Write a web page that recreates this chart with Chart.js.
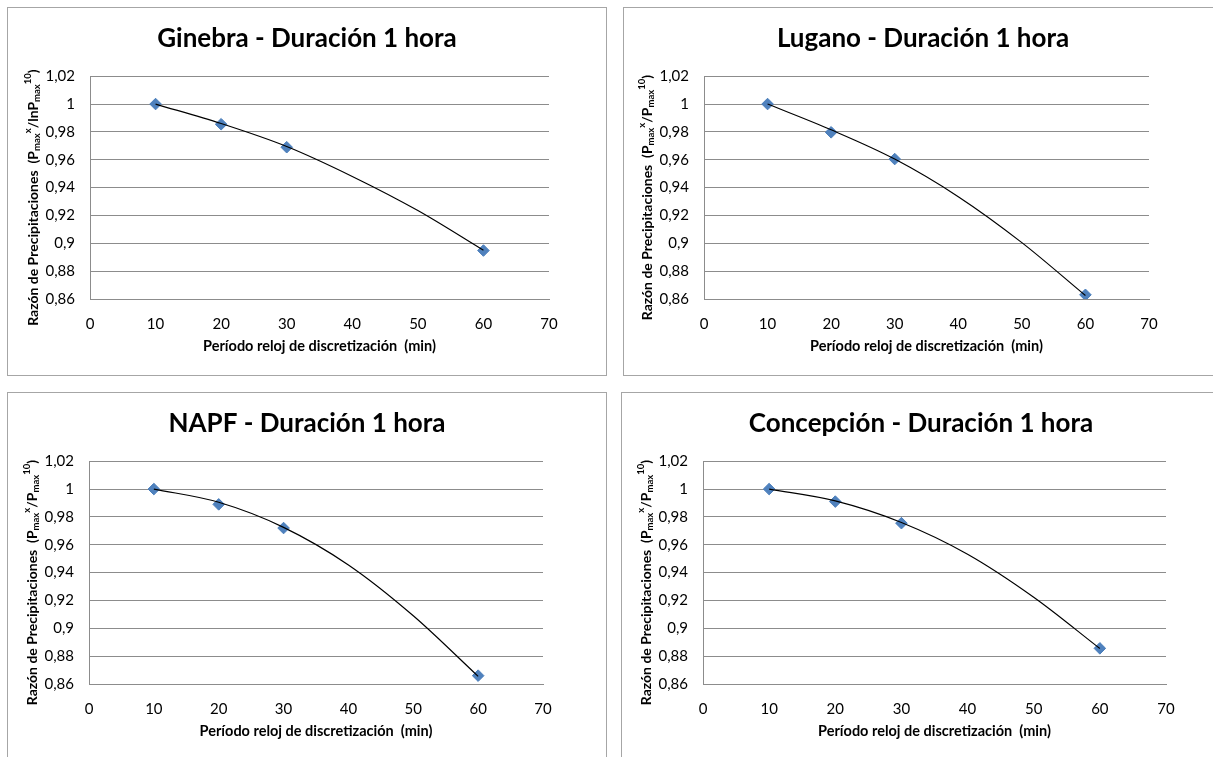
<!DOCTYPE html>
<html>
<head>
<meta charset="utf-8">
<script src="https://cdn.jsdelivr.net/npm/chart.js@4.4.1/dist/chart.umd.min.js"></script>
<style>
  html, body { margin: 0; padding: 0; background: #fff; overflow: hidden; width: 1213px; height: 757px; }
  body { position: relative; }
  .panel { position: absolute; border: 1px solid #a6a6a6; width: 598px; height: 367px; background: #fff; }
  .panel canvas { display: block; }
  #p1 { left: 7px; top: 7px; }
  #p2 { left: 623px; top: 7px; }
  #p3 { left: 7px; top: 392px; }
  #p4 { left: 621px; top: 392px; }
</style>
</head>
<body>
<div class="panel" id="p1"><canvas id="c1" width="598" height="367"></canvas></div>
<div class="panel" id="p2"><canvas id="c2" width="598" height="367"></canvas></div>
<div class="panel" id="p3"><canvas id="c3" width="598" height="367"></canvas></div>
<div class="panel" id="p4"><canvas id="c4" width="598" height="367"></canvas></div>
<script>
// ---- datos ----
var periodos = [10, 20, 30, 60];
var ginebraRatio = [1.0, 0.9855, 0.969, 0.8948];
var luganoRatio = [1.0, 0.9797, 0.9605, 0.863];
var napfRatio = [1.0, 0.989, 0.972, 0.866];
var concepcionRatio = [1.0, 0.991, 0.9755, 0.8856];

// curva de tendencia
var trendX = [10, 20, 30, 40, 50, 60];
var ginebraTrend = [1.0, 0.986, 0.9695, 0.948, 0.9235, 0.895];
var luganoTrend = [1.0, 0.9815, 0.9605, 0.9335, 0.9005, 0.8625];
var napfTrend = [1.0, 0.9905, 0.9725, 0.9455, 0.909, 0.8655];
var concepcionTrend = [1.0, 0.9915, 0.976, 0.9532, 0.9223, 0.8855];

var titulos = ['Ginebra - Duración 1 hora', 'Lugano - Duración 1 hora', 'NAPF - Duración 1 hora', 'Concepción - Duración 1 hora'];
var xTitulo = 'Período reloj de discretización  (min)';
var yMin = 0.86, yMax = 1.02, yStep = 0.02;
var xMin = 0, xMax = 70, xStep = 10;

var seriesPuntos = [ginebraRatio, luganoRatio, napfRatio, concepcionRatio];
var seriesTrend = [ginebraTrend, luganoTrend, napfTrend, concepcionTrend];

Chart.defaults.font.family = 'Lato, "Open Sans", sans-serif';
Chart.defaults.color = '#000';

// título del eje Y con subíndices / superíndices
var yTitleRich = {
  id: 'yTitleRich',
  afterDraw: function (chart, args, opts) {
    var parts = opts.parts;
    if (!parts) return;
    var ctx = chart.ctx;
    var area = chart.chartArea;
    var big = 'bold 14px Lato', small = 'bold 9.5px Lato';
    ctx.save();
    var total = 0;
    var widths = parts.map(function (p) {
      ctx.font = p.s ? small : big;
      var w = ctx.measureText(p.t).width;
      total += w;
      return w;
    });
    ctx.translate(area.left + opts.dx, (area.top + area.bottom) / 2 + opts.dy);
    ctx.rotate(-Math.PI / 2);
    ctx.textBaseline = 'middle';
    ctx.textAlign = 'left';
    ctx.fillStyle = '#000';
    var x = -total / 2;
    parts.forEach(function (p, i) {
      ctx.font = p.s ? small : big;
      var dy = p.s === 'sub' ? 4 : (p.s === 'sup' ? -5 : 0);
      ctx.fillText(p.t, x, dy);
      x += widths[i];
    });
    ctx.restore();
  }
};

function yParts(denom) {
  return [
    { t: 'Razón de Precipitaciones  (P' },
    { t: 'max', s: 'sub' },
    { t: 'x', s: 'sup' },
    { t: denom },
    { t: 'max', s: 'sub' },
    { t: '10', s: 'sup' },
    { t: ')' }
  ];
}

var leftW = [82, 80, 81, 81];
var rightW = [57, 73, 63, 54];
var denoms = ['/lnP', '/P', '/P', '/P'];

function toXY(xs, ys) {
  return xs.map(function (x, i) { return { x: x, y: ys[i] }; });
}

for (var k = 0; k < 4; k++) {
  (function (k) {
    new Chart(document.getElementById('c' + (k + 1)), {
      type: 'scatter',
      data: {
        datasets: [
          {
            data: toXY(trendX, seriesTrend[k]),
            showLine: true,
            borderColor: '#000',
            borderWidth: 1.2,
            pointRadius: 0,
            cubicInterpolationMode: 'monotone',
            order: 0
          },
          {
            data: toXY(periodos, seriesPuntos[k]),
            pointStyle: 'rectRot',
            pointRadius: 5.8,
            backgroundColor: '#4f81bd',
            borderColor: '#4a7ebb',
            borderWidth: 1,
            order: 1
          }
        ]
      },
      options: {
        responsive: false,
        animation: false,
        layout: { padding: { left: 0, right: 0, top: 0, bottom: 20 } },
        plugins: {
          legend: { display: false },
          tooltip: { enabled: false },
          title: {
            display: true,
            text: titulos[k],
            font: { size: 26, weight: 'bold' },
            color: '#000',
            padding: { top: 15, bottom: 22 }
          },
          yTitleRich: { parts: yParts(denoms[k]), dx: -57, dy: 10 }
        },
        scales: {
          x: {
            type: 'linear',
            min: xMin,
            max: xMax,
            afterFit: function (s) { s.height = 56; },
            ticks: { stepSize: xStep, font: { size: 15 }, color: '#000', padding: 16 },
            grid: { display: false, drawTicks: false },
            border: { display: true, color: '#8c8c8c', width: 1 },
            title: { display: true, text: xTitulo, font: { size: 14.5, weight: 'bold' }, color: '#000', padding: 0 }
          },
          y: {
            type: 'linear',
            min: yMin,
            max: yMax,
            afterFit: function (s) { s.width = leftW[k]; },
            ticks: {
              stepSize: yStep,
              font: { size: 15 },
              color: '#000',
              padding: 15,
              callback: function (v) { return String(Math.round(v * 100) / 100).replace('.', ','); }
            },
            grid: { color: '#8c8c8c', drawTicks: false },
            border: { display: true, color: '#8c8c8c', width: 1 }
          },
          // eje vacío a la derecha: solo reserva el margen para que el título quede centrado en el recuadro
          margen: {
            type: 'linear',
            position: 'right',
            afterFit: function (s) { s.width = rightW[k]; },
            ticks: { display: false },
            grid: { display: false, drawTicks: false },
            border: { display: false }
          }
        }
      },
      plugins: [yTitleRich]
    });
  })(k);
}
</script>
</body>
</html>
